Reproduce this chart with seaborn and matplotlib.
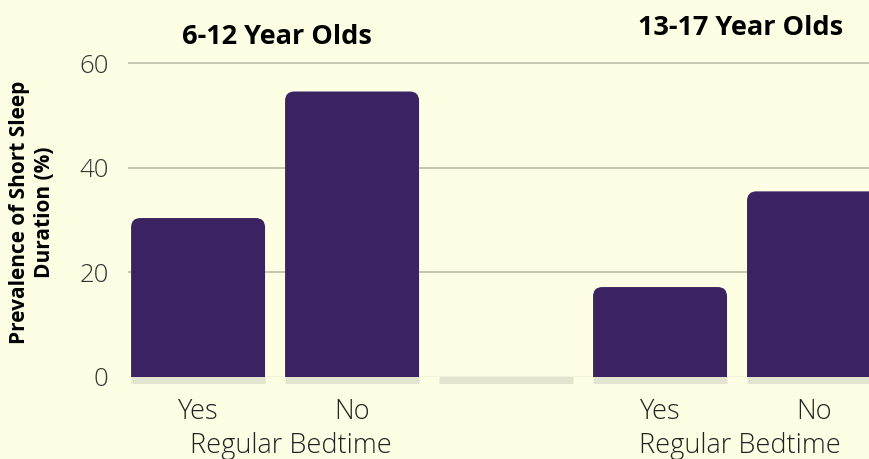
import matplotlib
matplotlib.use("Agg")
import matplotlib.pyplot as plt
import seaborn as sns
import pandas as pd
from matplotlib.patches import FancyBboxPatch

# ---- data ----
groups = ["6-12 Year Olds", "13-17 Year Olds"]
bedtime = ["Yes", "No"]
values_6_12 = [30.4, 54.6]
values_13_17 = [17.2, 35.5]
yticks = [0, 20, 40, 60]
xlabel_text = "Regular Bedtime"
ylabel_text = "Prevalence of Short Sleep\nDuration (%)"

BG = "#fdfee4"
BAR = "#3a2360"
GRID = "#c4c4ae"
BASE = "#e3e4d0"

slots = ["6-12|Yes", "6-12|No", "gap", "13-17|Yes", "13-17|No"]
df = pd.DataFrame({
    "slot": ["6-12|Yes", "6-12|No", "13-17|Yes", "13-17|No"],
    "value": values_6_12 + values_13_17,
})

sns.set_theme(style="white")
plt.rcParams["font.family"] = ["Open Sans", "DejaVu Sans"]

fig = plt.figure(figsize=(8.69, 4.59), dpi=100, facecolor=BG)
ax = fig.add_axes([128 / 869, 1 - 377 / 459, 741 / 869, 377 / 459])
ax.set_facecolor(BG)

sns.barplot(data=df, x="slot", y="value", order=slots, color=BAR,
            width=0.87, saturation=1, ax=ax, zorder=3)

# rounded tops
for p in list(ax.patches):
    x0, w, h = p.get_x(), p.get_width(), p.get_height()
    if h is None or h != h or h <= 0:
        p.remove()
        continue
    fb = FancyBboxPatch((x0, -5), w, h + 5,
                        boxstyle="round,pad=0,rounding_size=0.06",
                        mutation_aspect=30, facecolor=BAR, edgecolor="none",
                        zorder=3)
    ax.add_patch(fb)
    p.remove()

ax.set_xlim(-0.455, 4.357)
ax.set_ylim(0, 72.1)

# gridlines
for yv in yticks[1:]:
    ax.axhline(yv, color=GRID, lw=1.3, zorder=1)
# baseline segments
for i in range(len(slots)):
    ax.hlines(-0.55, i - 0.435, i + 0.435, color=BASE, lw=5, zorder=2,
              clip_on=False)
ax.axhline(0, color="#d0d0bc", lw=1, zorder=2)

ax.set_yticks(yticks)
ax.set_yticklabels([str(v) for v in yticks], fontsize=18.5, fontweight="light",
                   color="#333333")
ax.tick_params(axis="y", length=0, pad=14)
ax.set_xticks([0, 1, 3, 4])
ax.set_xticklabels(bedtime + bedtime, fontsize=19.5, fontweight="light",
                   color="#222222")
ax.tick_params(axis="x", length=0, pad=15)
ax.set_xlabel("")
ax.set_ylabel(ylabel_text, fontsize=15, fontweight="bold",
              color="black", linespacing=1.2)
ax.yaxis.set_label_coords(-0.099, 0.4377)
for s in ax.spines.values():
    s.set_visible(False)

# group x labels
for cx in (0.60, 3.52):
    ax.text(cx, -13.2, xlabel_text, ha="center", va="center", fontsize=19.5,
            fontweight="light", color="#222222", clip_on=False)

# group titles
ax.text(0.51, 65.0, groups[0], ha="center", va="center", fontsize=19.5,
        fontweight="bold", color="black")
ax.text(3.52, 66.7, groups[1], ha="center", va="center", fontsize=19.5,
        fontweight="bold", color="black")

fig.savefig("out.png", dpi=100, facecolor=BG)
